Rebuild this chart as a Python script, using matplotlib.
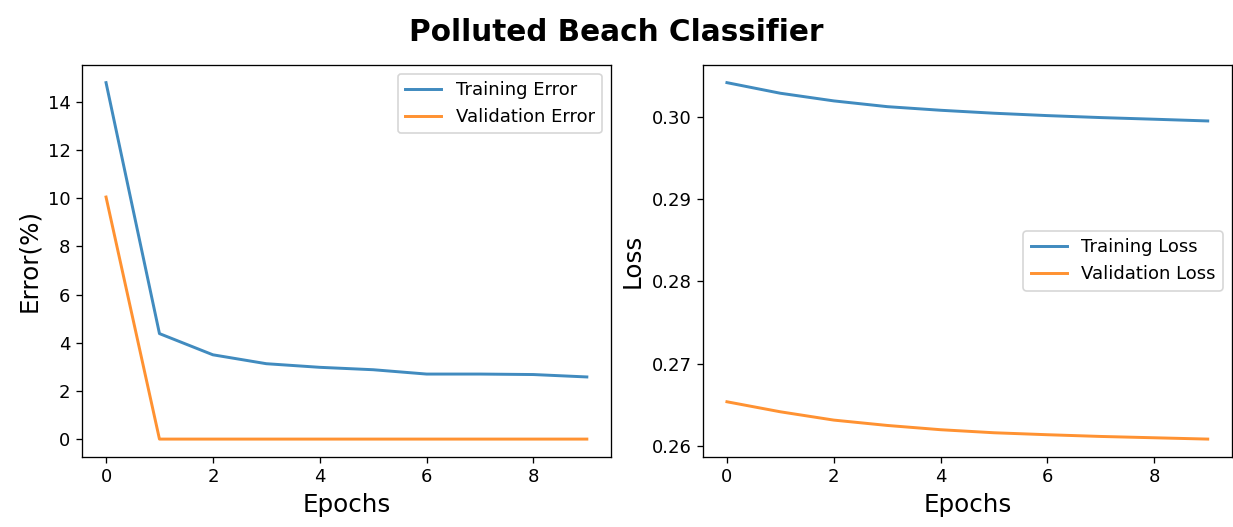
import numpy as np
import matplotlib
matplotlib.use("Agg")
import matplotlib.pyplot as plt

epochs = list(range(10))
train_error = [14.8, 4.38, 3.5, 3.13, 2.98, 2.88, 2.7, 2.7, 2.68, 2.58]
val_error = [10.05, 0.0, 0.0, 0.0, 0.0, 0.0, 0.0, 0.0, 0.0, 0.0]
train_loss = [0.30417, 0.30288, 0.30195, 0.30125, 0.30081, 0.30045, 0.30016, 0.29992, 0.29972, 0.29951]
val_loss = [0.26535, 0.26413, 0.26312, 0.26247, 0.26195, 0.26158, 0.26134, 0.26113, 0.26097, 0.26081]

plt.rcParams['xtick.labelsize'] = 11
plt.rcParams['ytick.labelsize'] = 11
plt.rcParams['legend.fontsize'] = 11

fig, (ax1, ax2) = plt.subplots(1, 2, figsize=(1233 / 118, 527 / 118), dpi=118)
fig.subplots_adjust(left=0.0665, right=0.999, top=0.877, bottom=0.133, wspace=0.174)
fig.suptitle('Polluted Beach Classifier', fontsize=18, fontweight='bold', y=0.965)

ax1.plot(epochs, train_error, lw=1.8, alpha=0.85, label='Training Error')
ax1.plot(epochs, val_error, lw=1.8, alpha=0.85, label='Validation Error')
ax1.set_xlabel('Epochs', fontsize=15)
ax1.set_ylabel('Error(%)', fontsize=15)
ax1.legend(loc='upper right')

ax2.plot(epochs, train_loss, lw=1.8, alpha=0.85, label='Training Loss')
ax2.plot(epochs, val_loss, lw=1.8, alpha=0.85, label='Validation Loss')
ax2.set_xlabel('Epochs', fontsize=15)
ax2.set_ylabel('Loss', fontsize=15)
ax2.set_yticks([0.26, 0.27, 0.28, 0.29, 0.30])
ax2.legend(loc='center right')

fig.savefig('out.png', dpi=118)
